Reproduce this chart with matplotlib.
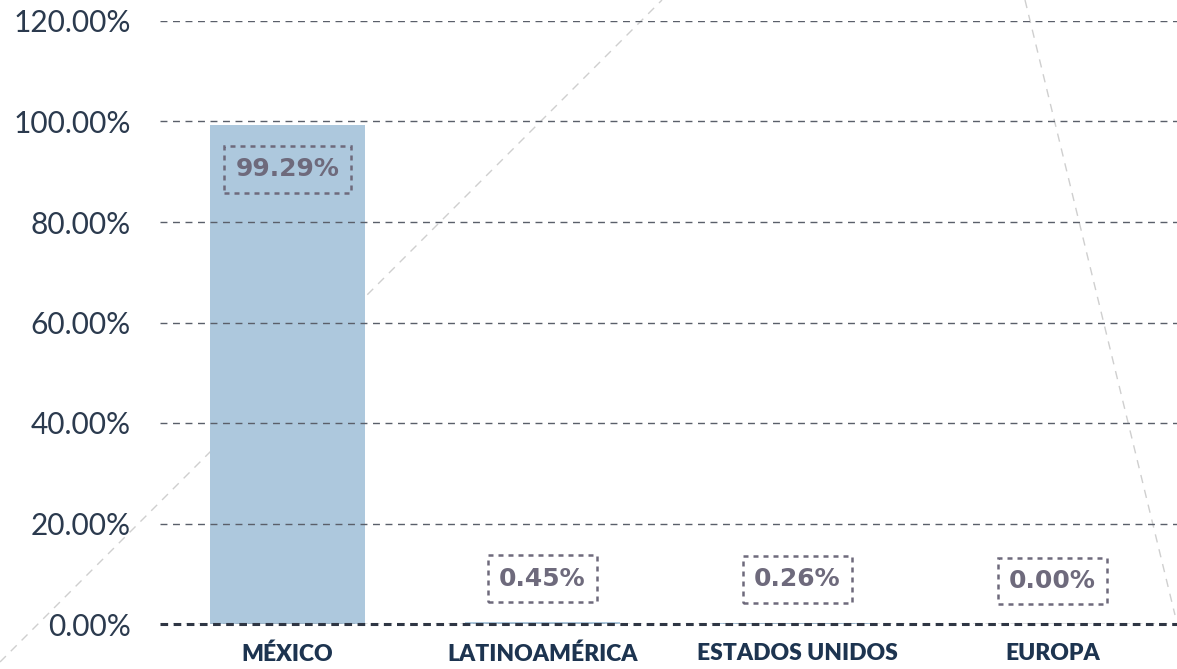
import matplotlib.pyplot as plt
from matplotlib.lines import Line2D

# datos
regiones = ['MÉXICO', 'LATINOAMÉRICA', 'ESTADOS UNIDOS', 'EUROPA']
porcentajes = [99.29, 0.45, 0.26, 0.00]
ticks_y = [0, 20, 40, 60, 80, 100, 120]

W, H = 1177, 669
fig = plt.figure(figsize=(W / 100, H / 100), dpi=100)
fig.patch.set_facecolor('white')

# ejes: x de 160 a 1180 px, y de 21 a 624 px
ax = fig.add_axes([160 / W, (H - 624) / H, 1020 / W, (624 - 21) / H])
ax.patch.set_alpha(0)

#------------------------------------------------------------------------------------------------------------
# lineas decorativas en diagonal (fondo)
for (x0, y0), (x1, y1) in [((0, 662), (662, 0)), ((1025, 0), (1175, 615))]:
    fig.add_artist(Line2D([x0 / W, x1 / W], [1 - y0 / H, 1 - y1 / H], transform=fig.transFigure,
                          color='#cfcfcf', lw=1, linestyle=(0, (6, 5)), zorder=-1))

x = range(len(regiones))
ax.bar(x, porcentajes, width=0.61, color='#adc8dd', zorder=1)

ax.set_xlim(-0.5, 3.5)
ax.set_ylim(0, 120)
ax.set_yticks(ticks_y)
ax.set_yticklabels([f'{t:.2f}%' for t in ticks_y], fontfamily='Lato', fontweight='normal',
                   fontsize=21.5, color='#2b3a4e')
ax.set_xticks(list(x))
ax.set_xticklabels(regiones, fontfamily='Lato', fontweight='heavy', fontsize=16.5, color='#1d3450')
ax.tick_params(axis='both', length=0)
ax.tick_params(axis='y', pad=21)
ax.tick_params(axis='x', pad=14)

for s in ax.spines.values():
    s.set_visible(False)

ax.yaxis.grid(True, color='#5a5f6a', lw=1, linestyle=(0, (5, 4)))
ax.axhline(0, color='#2f3644', lw=2.2, linestyle=(0, (2.5, 1.8)), zorder=3, clip_on=False)

# etiquetas de valor con caja punteada
for i, v in enumerate(porcentajes):
    if v > 20:
        y = v - 8.8
    else:
        y = v + 8.6
    ax.text(i, y, f'{v:.2f}%', ha='center', va='center', fontfamily='DejaVu Sans', fontweight='bold',
            fontsize=18, color='#6e6a7c', zorder=4,
            bbox=dict(boxstyle='square,pad=0.45', facecolor='none', edgecolor='#6e6a7c',
                      linewidth=1.8, linestyle=(0, (2, 2))))

fig.savefig('out.png', dpi=100)
